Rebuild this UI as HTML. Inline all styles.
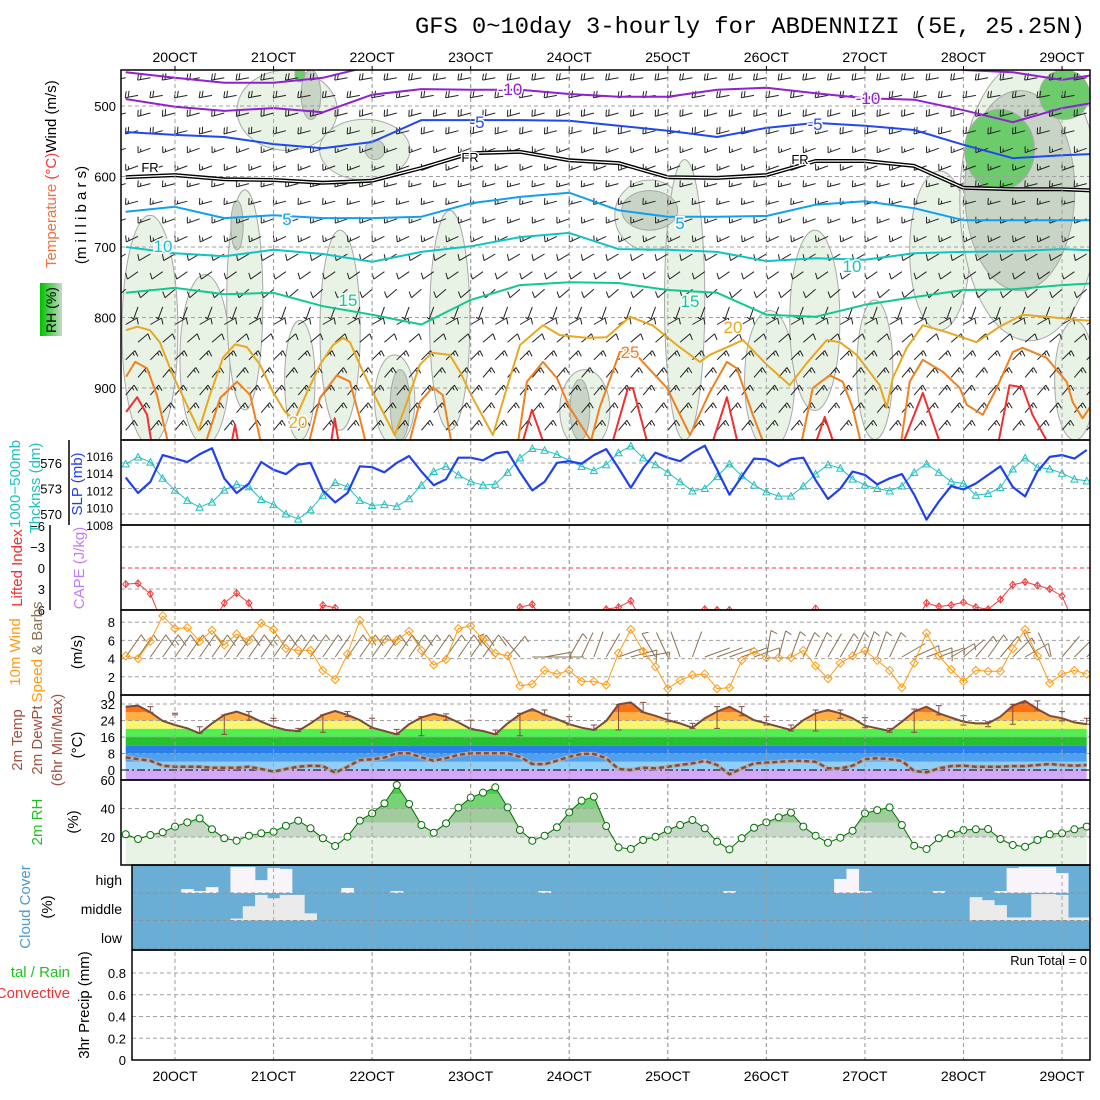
<!DOCTYPE html>
<html><head><meta charset="utf-8"><title>GFS meteogram ABDENNIZI</title>
<style>
html,body{margin:0;padding:0;background:#fff;}
svg{display:block;font-family:"Liberation Sans",sans-serif;}
.tick{font-size:13px;fill:#000;}
.ttl{font-size:14px;}
</style></head>
<body>
<svg id="chart" width="1100" height="1100" viewBox="0 0 1100 1100" xmlns="http://www.w3.org/2000/svg">
<defs>
<clipPath id="clipTop"><rect x="121" y="70" width="969" height="370"/></clipPath>
<clipPath id="clipSlp"><rect x="121" y="440" width="969" height="85"/></clipPath>
<clipPath id="clipLi"><rect x="121" y="525" width="969" height="85"/></clipPath>
<clipPath id="clipWind"><rect x="121" y="610" width="969" height="85"/></clipPath>
<clipPath id="clipTemp"><rect x="121" y="695" width="969" height="85"/></clipPath>
<clipPath id="clipRh"><rect x="121" y="780" width="969" height="85"/></clipPath>
<linearGradient id="rhgrad" x1="0" y1="0" x2="1" y2="0"><stop offset="0" stop-color="#00c000"/><stop offset="0.5" stop-color="#60d060"/><stop offset="1" stop-color="#c8d8c8"/></linearGradient>
</defs>
<text x="415" y="33" font-family="Liberation Mono, monospace" font-size="23" textLength="670" lengthAdjust="spacingAndGlyphs">GFS 0~10day 3-hourly for ABDENNIZI (5E, 25.25N)</text>
<g id="bg"></g>
<g id="marks"></g>
<g id="frames"></g>
<g id="labels"></g>
</svg>
<script>
// ---------------- DATA ----------------
const dayLabels = ["20OCT","21OCT","22OCT","23OCT","24OCT","25OCT","26OCT","27OCT","28OCT","29OCT"];
// 3-hourly series, index i -> hours since 20OCT00Z = -12 + 3*i
const slp = [1013.5,1011.7,1013.0,1016.1,1015.7,1015.3,1016.2,1016.9,1013.4,1011.7,1012.8,1015.3,1014.4,1013.9,1015.0,1015.2,1012.0,1010.6,1011.7,1014.8,1014.7,1014.1,1015.2,1016.0,1014.2,1012.6,1013.3,1015.8,1015.8,1015.5,1016.3,1016.5,1014.1,1012.0,1013.0,1015.2,1015.4,1015.1,1016.1,1016.8,1014.6,1012.3,1014.6,1016.4,1015.8,1015.4,1016.4,1017.2,1014.4,1011.5,1013.6,1015.7,1015.6,1014.8,1015.6,1015.8,1013.2,1011.0,1012.2,1014.2,1013.8,1012.7,1013.4,1013.9,1011.5,1008.6,1010.7,1012.5,1012.1,1012.8,1013.8,1014.8,1012.4,1011.3,1014.2,1015.9,1016.1,1015.7,1016.7];
const thick = [575.9,576.7,576.1,574.2,572.8,571.6,570.8,571.4,572.8,573.5,573.2,571.7,571.1,570.0,569.4,570.5,572.2,573.7,573.2,571.6,571.0,571.1,570.9,571.8,573.4,575.0,575.6,574.6,573.8,573.4,573.5,574.9,576.6,577.7,577.5,577.0,576.3,575.6,575.1,575.8,577.2,578.0,576.6,575.8,574.9,573.8,572.7,573.0,574.4,575.9,574.5,573.4,572.6,572.1,572.1,573.3,574.7,575.8,575.4,574.1,573.4,573.0,572.7,573.3,574.9,575.9,574.9,573.8,573.6,572.2,572.4,573.1,575.3,576.6,575.5,575.3,574.8,574.1,573.9];
const liftedIndex = [2.3,2.2,3.7,8,8,8,8,8,5.0,3.6,5.0,8,8,8,8,8,5.3,5.7,8,8,8,8,8,8,8,8,8,8,8,8,8,8,5.6,5.2,8,8,8,8,8,5.9,5.6,4.7,8,8,8,8,8,5.9,6.0,6.0,8,8,8,8,8,8,5.8,8,8,8,8,8,8,8,8,5.0,5.5,5.3,4.9,5.6,5.9,4.5,2.4,2.0,2.5,3.0,4.0,8,8];
const wind10 = [4.3,4.0,5.9,8.7,7.3,7.4,5.9,7.1,5.5,6.7,6.0,7.9,7.2,5.1,4.9,4.9,2.7,1.7,4.5,8.2,6.0,6.1,6.0,7.0,4.9,3.3,3.9,7.3,7.6,6.1,4.6,4.3,1.0,1.2,2.7,2.3,2.7,1.5,1.5,1.1,4.6,7.2,4.8,3.1,0.7,1.6,2.2,2.3,0.7,0.8,3.8,4.8,4.1,4.1,4.1,4.9,3.2,1.8,3.5,4.3,4.9,3.8,2.7,0.8,3.5,6.8,4.3,2.8,1.5,2.7,2.6,2.6,5.1,7.2,4.3,1.3,2.3,2.7,2.3];
const wind10Dir = [35,35,35,35,35,35,35,35,35,35,35,35,35,35,35,35,35,35,35,35,35,35,35,35,35,35,35,35,35,35,320,40,320,90,80,90,30,25,20,30,70,75,80,330,335,340,20,70,70,70,70,70,10,15,20,25,25,30,30,25,20,20,25,60,65,70,70,60,50,40,35,40,45,60,330,335,40,45,45];
const temp2m = [30.7,31.2,28.0,23.8,21.8,20.2,17.8,22.6,26.7,28.3,26.3,23.4,21.0,19.4,18.9,22.6,26.7,28.6,26.7,24.2,20.5,18.9,17.3,22.2,25.5,27.2,25.9,23.1,19.9,18.9,17.3,22.6,27.0,29.6,26.7,24.7,22.2,20.5,19.4,23.8,31.8,32.8,28.0,26.3,24.2,22.6,20.5,25.1,28.3,30.7,27.5,24.2,22.6,21.0,19.4,24.2,27.5,29.1,27.5,25.1,21.5,20.2,18.9,23.4,28.3,30.7,27.5,25.4,23.4,22.6,22.6,25.9,31.2,33.5,29.6,26.3,25.1,23.1,22.2];
const dew2m = [6.1,5.3,4.5,2.1,1.6,1.6,1.6,1.1,1.1,1.1,1.6,0.5,-0.8,0.5,1.6,2.1,1.9,-1.3,1.6,4.8,5.2,6.0,8.1,8.1,6.1,4.5,5.7,7.3,8.1,8.1,8.1,8.1,6.4,2.9,2.8,4.5,6.4,7.8,7.8,5.7,0.5,0,1.1,0.8,1.6,2.4,3.2,4.4,2.4,-2.1,0.8,3.2,3.6,4.0,4.4,4.4,4.0,0.8,0.8,2.1,5.3,5.7,5.3,4.4,-0.5,-1.1,0.8,1.9,2.1,1.6,1.6,1.6,1.9,1.9,2.4,2.9,2.4,2.1,2.4];
const barIdx = [2,4,6,8,10,12,14,16,18,20,22,24,26,28,30,32,34,36,38,40,42,44,46,48,50,52,54,56,58,60,62,64,66,68,70,72,74,76,78];
const barMax = [30.7,27.5,21.0,26.7,28.3,25.1,20.2,26.7,28.3,25.1,19.7,25.9,27.2,24.2,19.4,27.5,29.1,25.9,21.8,31.8,32.8,27.5,22.6,30.7,30.7,25.9,21.8,29.1,29.1,25.4,20.2,29.6,31.2,26.3,23.4,31.8,33.5,28.3,25.1];
const barMin = [28.0,26.7,17.8,17.3,24.2,23.8,18.6,18.3,25.9,20.2,17.3,16.6,24.2,20.2,17.3,16.6,26.7,21.8,19.4,19.4,28.0,23.4,20.2,20.2,26.3,21.8,18.9,18.9,25.1,20.5,18.3,18.3,26.7,21.8,21.0,22.2,29.1,23.8,22.2];
const rh2m = [21.9,18.6,21.4,23.3,27.3,30.3,33.1,25.4,19.1,17.4,20.9,22.6,23.7,27.9,31.5,26.1,19.1,13.7,20.2,31.5,36.6,43.6,56.5,43.2,28.4,23.0,29.6,40.6,47.6,51.1,54.9,40.8,24.9,17.4,20.9,26.8,37.3,45.5,48.3,27.7,12.7,11.6,17.9,20.2,24.9,28.4,31.9,26.1,16.7,11.3,19.1,26.5,30.3,33.8,37.1,27.3,20.9,16.0,19.5,24.4,36.6,38.9,40.8,28.4,13.9,11.6,19.1,22.1,24.9,25.4,25.6,18.6,14.4,13.2,17.9,21.9,22.6,25.4,27.3];
const cloudHigh = [0,0,0,0,0,14,7,21,0,93,93,46,89,86,0,0,0,0,18,0,0,0,7,0,0,0,0,0,0,0,0,0,0,0,7,0,0,0,0,0,0,0,0,0,0,0,0,0,0,7,0,0,0,0,0,0,0,0,50,86,7,0,0,0,0,0,7,0,0,0,0,7,89,93,93,93,71,0,0];
const cloudMid = [0,0,0,0,0,0,0,0,0,7,52,93,81,93,93,26,0,0,0,0,0,0,0,0,0,0,0,0,0,0,0,0,0,0,0,0,0,0,0,0,0,0,0,0,0,0,0,0,0,0,0,0,0,0,0,0,0,0,0,0,0,0,0,0,0,0,0,0,0,85,74,56,11,11,96,96,93,11,11];
const precip = [];
// upper-air isotherms: pressure (mb) at 12-hourly control times (h = -12 + 12k)
const isoM15 = [452,460,467,467,460,443,435,435,435,435,435,435,435,435,435,435,435,449,452,463,452];
const isoM10 = [490,501,507,503,509,484,476,477,477,483,487,487,477,474,482,489,491,506,523,503,491];
const isoM5  = [537,541,544,554,560,551,520,520,520,521,528,535,544,531,524,528,534,555,574,570,567];
const isoFR  = [601,598,604,605,609,606,588,567,565,577,581,601,602,598,578,578,585,616,618,618,621];
const isoP5  = [650,643,659,655,659,659,657,638,629,623,648,657,657,656,640,635,645,662,662,662,662];
const isoP10 = [700,709,713,704,710,721,707,699,686,680,703,704,707,720,716,718,709,707,706,703,706];
const isoP15 = [765,758,767,765,784,796,810,775,754,750,751,761,765,796,799,782,771,761,760,754,750];
// warm isotherms (irregular times in hours)
const h20 = [-11.9,-9.2,-6.1,-3.7,-0.5,2.9,5.8,8.5,11.7,14.6,17.5,20.7,23.9,26.8,29.2,32.1,35.3,38.5,40.9,42.6,45.0,48.2,53.5,56.5,59.6,62.6,66.9,69.4,72.5,77.4,80.8,84.0,89.6,93.7,100.3,105.1,110.8,116.3,122.2,127.8,130.2,138.3,144.1,149.7,153.8,158.7,161.9,166.0,171.6,173.3,174.8,178.2,182.1,188.0,195.2,200.8,206.4,212.2,221.0,224];
const p20 = [818,813,818,835,882,924,960,910,857,838,842,867,906,934,945,907,867,839,829,835,867,906,967,920,867,850,853,877,914,967,900,839,811,825,829,828,799,811,839,863,853,832,867,896,865,832,835,853,896,928,886,843,811,821,835,813,796,799,804,805];
const h25 = [-11.9,-9.7,-6.8,-4.4,-1.2,6.8,11.0,15.1,18.3,21.4,32.1,35.3,39.4,42.6,45.0,47.0,56.5,59.6,62.8,65.2,67.7,83.2,85.7,89.6,93.0,96.1,101.3,103.4,108.3,110.8,113.9,119.8,125.4,130.2,134.4,136.8,140.7,144.1,152.1,155.3,159.4,162.6,165.0,167.5,176.5,178.9,182.1,187.0,191.1,192.8,196.7,200.1,204.0,206.4,212.2,217.1,218.6,221.0,222.7];
const p25 = [884,863,872,910,990,990,914,891,910,990,990,914,882,891,943,990,990,920,899,910,990,990,891,863,886,928,975,928,849,842,863,900,967,906,863,872,938,990,990,900,882,891,928,990,990,891,860,877,900,924,938,900,849,843,857,891,920,943,928];
const h30 = [-11.9,-9.2,-6.8,-5.4,13.4,14.6,15.8,37.7,38.9,40.2,84.0,86.9,90.5,105.9,110.3,111.5,115.6,130.2,134.4,137.5,155.3,158.2,161.1,176.5,182.1,187.0,200.1,203.2,206.4,208.8,213.7];
const p30 = [934,913,938,990,990,952,990,990,943,990,990,931,990,990,900,900,990,990,913,990,990,941,990,990,907,990,990,896,899,938,990];
// RH (%) moist regions aloft: centre time (h), centre pressure, half-width (h), half-depth (mb), level
const rhH = [-6.1,7.3,17.0,30.4,27.3,46.2,40.2,53.5,66.9,99.8,115.6,124.1,144.8,155.8,170.4,186.2,208.1,219.1, 15.1,33.1,48.7,54.8,98.6,115.6,205.7, 30.4,200.8,216.6];
const rhP = [818,860,775,889,506,562,818,917,804,931,655,775,889,804,874,705,634,889, 669,484,562,924,931,648,620, 455,562,484];
const rhW = [6.8,6.1,4.4,3.7,12.2,11.0,4.9,4.9,4.9,6.1,8.5,4.9,6.1,6.1,4.4,7.3,17.0,4.9, 1.5,2.4,2.4,2.4,2.4,6.8,13.4, 1.2,8.5,6.1];
const rhD = [163,121,156,85,57,43,142,64,156,57,50,199,99,128,99,113,199,85, 35,35,14,50,43,28,142, 11,57,35];
const rhL = [1,1,1,1,1,1,1,1,1,1,1,1,1,1,1,1,1,1, 2,2,2,2,2,2,2, 3,3,3];
// upper-air wind barbs per level
const barbLevels = [460,485,510,535,560,585,610,635,660,685,710,735,760,785,810,835,860,885,910,935,960];
const barbDir = [260,260,255,255,250,250,255,255,250,245,240,235,230,200,60,50,45,40,40,40,40];
const barbSpd = [12,12,11,11,10,10,9,9,8,8,7,7,6,5,6,7,8,9,9,9,8];

// ---------------- AXES ----------------
const NS = 'http://www.w3.org/2000/svg';
const svg = document.getElementById('chart');
const gBg = document.getElementById('bg'), gM = document.getElementById('marks'), gF = document.getElementById('frames'), gL = document.getElementById('labels');
function mk(tag, parent){ const e = document.createElementNS(NS, tag); parent.appendChild(e); return e; }
function set(e, o){ for (const k in o) e.setAttribute(k, o[k]); return e; }
const xH = h => 175 + h * 98.56 / 24;
const xI = i => xH(-12 + 3 * i);
const yP = p => 106 + (p - 500) * 0.705;
const ySlp = v => 456 + (1016 - v) * 8.6;
const yTh = v => 463 + (576 - v) * 8.5;
const yLi = v => 568 + v * 7;
const yW = v => 695 - v * 9.1;
const yT = v => 770 - v * 2.0625;
const yRh = v => 865.5 - v * 1.425;
const yPr = v => 1060 - v * 108.75;
const X0 = 121, X1 = 1090;

function grpClip(id, name){ const g = mk('g', gM); g.setAttribute('clip-path', 'url(#' + id + ')');
  
  
  return g; }
function poly(parent, pts, stroke, w, name, extra){ const e = mk('polyline', parent);
  set(e, {points: pts.map(p => p[0].toFixed(1) + ',' + p[1].toFixed(1)).join(' '), fill: 'none', stroke: stroke, 'stroke-width': w, 'stroke-linejoin': 'round'});
  if (extra) set(e, extra);
  
  
  return e; }
function txt(parent, x, y, s, o, name){ const e = mk('text', parent); e.textContent = s; set(e, {x: x, y: y}); if (o) set(e, o);
  
  
  return e; }
function hline(parent, y, x0, x1, stroke, dash, name){ const e = mk('line', parent); set(e, {x1: x0, x2: x1, y1: y, y2: y, stroke: stroke, 'stroke-width': 1});
  if (dash) e.setAttribute('stroke-dasharray', dash);
  
  
  return e; }
function barb(parent, x, y, dir, spd, L, color, name){
  const a = dir * Math.PI / 180, dx = Math.sin(a), dy = -Math.cos(a);
  const ex = x + L * dx, ey = y + L * dy;
  let d = 'M' + x.toFixed(1) + ',' + y.toFixed(1) + 'L' + ex.toFixed(1) + ',' + ey.toFixed(1);
  const kt = spd * 1.944; const full = Math.floor(kt / 10); const half = (kt % 10) >= 5 ? 1 : 0;
  const b = a + 1.9; const bx = Math.sin(b), by = -Math.cos(b); const bl = L * 0.5;
  for (let k = 0; k < full + half; k++){
    const sx = ex - k * (L * 0.22) * dx, sy = ey - k * (L * 0.22) * dy;
    const len = k < full ? bl : bl * 0.5;
    d += 'M' + sx.toFixed(1) + ',' + sy.toFixed(1) + 'l' + (len * bx).toFixed(1) + ',' + (len * by).toFixed(1);
  }
  const e = mk('path', parent); set(e, {d: d, stroke: color, 'stroke-width': 1, fill: 'none'});
  
  
}

// ---------------- TOP PANEL ----------------
const gTop = grpClip('clipTop', 'upper-air-panel');
const rhFill = ['#e8f3e6', '#c8d4c6', '#6ccc6c'];
[1,2,3].forEach(lv => {
  for (let i = 0; i < rhH.length; i++){ if (rhL[i] !== lv) continue;
    const cx = xH(rhH[i]), cy = yP(rhP[i]);
    const rx = xH(rhH[i] + rhW[i]) - cx, ry = yP(rhP[i] + rhD[i]) - cy;
    const e = mk('ellipse', gTop); set(e, {cx: cx, cy: cy, rx: rx, ry: ry, fill: rhFill[lv - 1], stroke: '#a8a8a8', 'stroke-width': 1});
    
    
  }
});
// grid
for (let p = 500; p <= 900; p += 100) hline(gTop, yP(p), X0, X1, '#a0a0a0', '4,3', 'pressure-gridline');
// barbs aloft
for (let r = 0; r < barbLevels.length; r++){
  for (let i = (r % 2); i < 79; i += 2){
    barb(gTop, xI(i), yP(barbLevels[r]), barbDir[r], barbSpd[r], 13, '#222', 'upper-wind-barb');
  }
}
const ctrl = isoM15.map((v, k) => -12 + 12 * k);
function isoLine(arr, color, w, name){ return poly(gTop, arr.map((v, k) => [xH(ctrl[k]), yP(v)]), color, w, name); }
isoLine(isoM15, '#9020d0', 2, 'isotherm-minus15');
isoLine(isoM10, '#9020d0', 2, 'isotherm-minus10');
isoLine(isoM5, '#2048f0', 2, 'isotherm-minus5');
isoLine(isoFR, '#000', 4, 'freezing-level');
isoLine(isoFR, '#fff', 1.2, 'freezing-level-inner');
isoLine(isoP5, '#10a0f0', 2, 'isotherm-5');
isoLine(isoP10, '#10c4c4', 2, 'isotherm-10');
isoLine(isoP15, '#10c890', 2, 'isotherm-15');
poly(gTop, h20.map((h, k) => [xH(h), yP(p20[k])]), '#e8a820', 2, 'isotherm-20');
poly(gTop, h25.map((h, k) => [xH(h), yP(p25[k])]), '#f08020', 2, 'isotherm-25');
poly(gTop, h30.map((h, k) => [xH(h), yP(p30[k])]), '#f03030', 2, 'isotherm-30');
const isoLab = [[510,95,'-10','#9020d0'],[868,104,'-10','#9020d0'],[477,128,'-5','#2048f0'],[815,130,'-5','#2048f0'],[150,172,'FR','#000'],[470,162,'FR','#000'],[800,164,'FR','#000'],[287,225,'5','#10a0f0'],[680,229,'5','#10a0f0'],[163,252,'10','#10c4c4'],[852,272,'10','#10c4c4'],[348,306,'15','#10c890'],[690,307,'15','#10c890'],[298,428,'20','#e8a820'],[733,333,'20','#e8a820'],[630,358,'25','#f08020']];
isoLab.forEach(l => { const e = txt(gTop, l[0], l[1], l[2], {fill: l[3], 'font-size': l[2] === 'FR' ? 13 : 17, 'text-anchor': 'middle', stroke: '#fff', 'stroke-width': 3, 'paint-order': 'stroke'}, 'isotherm-label'); });

// ---------------- SLP / THICKNESS ----------------
const gS = grpClip('clipSlp', 'slp-panel');
[576,573,570].forEach(v => hline(gS, yTh(v), X0, X1, '#a0a0a0', '4,3', 'thickness-gridline'));
poly(gS, thick.map((v, i) => [xI(i), yTh(v)]), '#20c0c0', 1, 'thickness-line');
thick.forEach((v, i) => { const x = xI(i), y = yTh(v); const e = mk('path', gS);
  set(e, {d: `M${x.toFixed(1)},${(y-3.5).toFixed(1)}l3.5,6.5h-7z`, fill: 'none', stroke: '#20c0c0', 'stroke-width': 1});
  
   });
poly(gS, slp.map((v, i) => [xI(i), ySlp(v)]), '#2040f0', 2.2, 'slp-line');

// ---------------- LIFTED INDEX ----------------
const gLi = grpClip('clipLi', 'lifted-index-panel');
[-3,3].forEach(v => hline(gLi, yLi(v), X0, X1, '#a0a0a0', '4,3', 'li-gridline'));
hline(gLi, yLi(0), X0, X1, '#ff3030', '4,3', 'li-zero-line');
poly(gLi, liftedIndex.map((v, i) => [xI(i), yLi(v)]), '#f04040', 1, 'lifted-index-line');
liftedIndex.forEach((v, i) => { const x = xI(i), y = yLi(v); const e = mk('path', gLi);
  set(e, {d: `M${x},${y-3.5}l3,3.5l-3,3.5l-3,-3.5zM${x},${y-3.5}v7`, fill: 'none', stroke: '#f04040', 'stroke-width': 1});
  
   });

// ---------------- 10M WIND ----------------
const gW = grpClip('clipWind', 'wind-panel');
[2,4,6,8].forEach(v => hline(gW, yW(v), X0, X1, '#a0a0a0', '4,3', 'wind-gridline'));
wind10.forEach((v, i) => barb(gW, xI(i), 657, wind10Dir[i], v, 27, '#8a7050', 'wind10-barb'));
poly(gW, wind10.map((v, i) => [xI(i), yW(v)]), '#ff9a10', 1, 'wind-speed-line');
wind10.forEach((v, i) => { const x = xI(i), y = yW(v); const e = mk('path', gW);
  set(e, {d: `M${x},${y-4}l4,4l-4,4l-4,-4z`, fill: 'none', stroke: '#ff9a10', 'stroke-width': 1});
  
   });

// ---------------- TEMPERATURE ----------------
const gT = grpClip('clipTemp', 'temperature-panel');
const tcp = document.createElementNS(NS, 'clipPath'); tcp.setAttribute('id', 'tempArea');
svg.querySelector('defs').appendChild(tcp);
const tArea = mk('polygon', tcp);
tArea.setAttribute('points', temp2m.map((v, i) => xI(i).toFixed(1) + ',' + yT(v).toFixed(1)).join(' ') + ` ${xI(78).toFixed(1)},781 ${xI(0).toFixed(1)},781`);
const gTB = mk('g', gT); gTB.setAttribute('clip-path', 'url(#tempArea)');


const tBands = [[-6,0,'#d2a8f8'],[0,4,'#90d0f8'],[4,8,'#50a0f0'],[8,12,'#2a80e8'],[12,16,'#28c030'],[16,20,'#50f050'],[20,24,'#f6f670'],[24,28,'#ffb040'],[28,32,'#ff7010'],[32,40,'#f04000']];
tBands.forEach(b => { const e = mk('rect', gTB); set(e, {x: X0, y: yT(b[1]), width: X1 - X0, height: yT(b[0]) - yT(b[1]), fill: b[2]});
  
   });
[8,16,24,32].forEach(v => hline(gT, yT(v), X0, X1, '#a0a0a0', '4,3', 'temp-gridline'));
hline(gT, yT(0), X0, X1, '#000', '8,3,2,3', 'zero-degree-line');
poly(gT, dew2m.map((v, i) => [xI(i), yT(v)]), '#b0b0b0', 4, 'dewpoint-halo');
poly(gT, dew2m.map((v, i) => [xI(i), yT(v)]), '#8a4a3a', 2.5, 'dewpoint-line', {'stroke-dasharray': '5,3'});
barIdx.forEach((ix, k) => { const x = xI(ix), y1 = yT(barMax[k]), y2 = yT(barMin[k]); const e = mk('path', gT);
  set(e, {d: `M${x},${y1}V${y2}M${x-3},${y1}h6M${x-3},${y2}h6`, stroke: '#8a4a3a', 'stroke-width': 1, fill: 'none'});
  
   });
poly(gT, temp2m.map((v, i) => [xI(i), yT(v)]), '#7a4a3a', 2, 'temperature-line');

// ---------------- RH ----------------
const gR = grpClip('clipRh', 'rh-panel');
const rcp = document.createElementNS(NS, 'clipPath'); rcp.setAttribute('id', 'rhArea');
svg.querySelector('defs').appendChild(rcp);
const rArea = mk('polygon', rcp);
rArea.setAttribute('points', rh2m.map((v, i) => xI(i).toFixed(1) + ',' + yRh(v).toFixed(1)).join(' ') + ` ${xI(78).toFixed(1)},866 ${xI(0).toFixed(1)},866`);
const gRB = mk('g', gR); gRB.setAttribute('clip-path', 'url(#rhArea)');


const rBands = [[0,20,'#e8f3e6'],[20,30,'#c8d8c8'],[30,40,'#a0cc9c'],[40,50,'#76d476'],[50,100,'#4ccc4c']];
rBands.forEach(b => { const e = mk('rect', gRB); set(e, {x: X0, y: yRh(b[1]), width: X1 - X0, height: yRh(b[0]) - yRh(b[1]), fill: b[2]});
  
   });
[20,40].forEach(v => hline(gR, yRh(v), X0, X1, '#a0a0a0', '4,3', 'rh-gridline'));
poly(gR, rh2m.map((v, i) => [xI(i), yRh(v)]), '#007000', 1, 'rh-line');
rh2m.forEach((v, i) => { const e = mk('circle', gR); set(e, {cx: xI(i), cy: yRh(v), r: 3.5, fill: '#fff', stroke: '#007000', 'stroke-width': 1});
  
   });

// ---------------- CLOUD ----------------
const gC = mk('g', gM);


const cb = mk('rect', gC); set(cb, {x: 132, y: 865, width: 958, height: 85, fill: '#6aaed6'});


const cw = xI(1) - xI(0);
cloudHigh.forEach((v, i) => { if (!v) return; const h = v / 100 * 28; const e = mk('rect', gC);
  set(e, {x: xI(i) - cw / 2, y: 893 - h, width: cw + 0.3, height: h, fill: '#f8f4fa'});
  
   });
cloudMid.forEach((v, i) => { if (!v) return; const h = v / 100 * 27.5; const e = mk('rect', gC);
  set(e, {x: xI(i) - cw / 2, y: 920.5 - h, width: cw + 0.3, height: h, fill: '#ebebeb'});
  
   });
[893,920.5,948].forEach(y => hline(gC, y, 132, X1, '#909090', '4,3', 'cloud-gridline'));

// ---------------- PRECIP ----------------
const gPr = mk('g', gM);


[0.2,0.4,0.6,0.8].forEach(v => hline(gPr, yPr(v), 132, X1, '#a0a0a0', '4,3', 'precip-gridline'));
txt(gPr, 1087, 965, 'Run Total = 0', {'text-anchor': 'end', 'font-size': 13}, 'run-total-label');

// ---------------- DAY GRID + LABELS ----------------
dayLabels.forEach((d, k) => { const x = xH(24 * k);
  const e = mk('line', gBg); set(e, {x1: x, x2: x, y1: 70, y2: 1060, stroke: '#a0a0a0', 'stroke-dasharray': '4,3'});
  
  
  const e2 = mk('line', gF); set(e2, {x1: x, x2: x, y1: 66, y2: 70, stroke: '#000'});
  
  
  txt(gL, x, 62, d, {'text-anchor': 'middle', 'font-size': 14}, 'top-date-label');
  txt(gL, x, 1081, d, {'text-anchor': 'middle', 'font-size': 14}, 'bottom-date-label');
});
// move day gridlines above panel fills
const gridTop = mk('g', gM);


dayLabels.forEach((d, k) => { const x = xH(24 * k); const e = mk('line', gridTop);
  set(e, {x1: x, x2: x, y1: 70, y2: 1060, stroke: '#a0a0a0', 'stroke-dasharray': '4,3', 'stroke-opacity': 0.9});
  
   });

// frames
function frame(x, y, w, h, name){ const e = mk('rect', gF); set(e, {x: x, y: y, width: w, height: h, fill: 'none', stroke: '#000', 'stroke-width': 1.5});
  
   }
frame(121, 70, 969, 370, 'upper-air-frame');
frame(121, 440, 969, 85, 'slp-frame');
frame(121, 525, 969, 85, 'li-frame');
frame(121, 610, 969, 85, 'wind-frame');
frame(121, 695, 969, 85, 'temp-frame');
frame(121, 780, 969, 85, 'rh-frame');
frame(132, 865, 958, 85, 'cloud-frame');
frame(132, 950, 958, 110, 'precip-frame');
const ax1 = mk('line', gF); set(ax1, {x1: 69, x2: 69, y1: 440, y2: 525, stroke: '#000', 'stroke-width': 1.5});


const ax2 = mk('line', gF); set(ax2, {x1: 50, x2: 50, y1: 525, y2: 610, stroke: '#000', 'stroke-width': 1.5});



// tick labels
[500,600,700,800,900].forEach(p => txt(gL, 116, yP(p) + 5, String(p), {'text-anchor': 'end', 'font-size': 13}, 'pressure-tick-label'));
[1016,1014,1012,1010,1008].forEach(v => txt(gL, 113, Math.min(ySlp(v) + 5, 530), String(v), {'text-anchor': 'end', 'font-size': 12}, 'slp-tick-label'));
[576,573,570].forEach(v => txt(gL, 62, yTh(v) + 5, String(v), {'text-anchor': 'end', 'font-size': 13}, 'thickness-tick-label'));
[-6,-3,0,3,6].forEach(v => txt(gL, 45, yLi(v) + 5, v < 0 ? '\u2212' + (-v) : String(v), {'text-anchor': 'end', 'font-size': 13}, 'li-tick-label'));
[8,6,4,2,0].forEach(v => txt(gL, 115, yW(v) + 5, String(v), {'text-anchor': 'end', 'font-size': 13}, 'wind-tick-label'));
[32,24,16,8,0].forEach(v => txt(gL, 115, yT(v) + 5, String(v), {'text-anchor': 'end', 'font-size': 13}, 'temp-tick-label'));
[60,40,20].forEach(v => txt(gL, 115, yRh(v) + 5, String(v), {'text-anchor': 'end', 'font-size': 13}, 'rh-tick-label'));
[['high',885],['middle',914],['low',943]].forEach(c => txt(gL, 122, c[1], c[0], {'text-anchor': 'end', 'font-size': 14}, 'cloud-level-label'));
[0.8,0.6,0.4,0.2,0].forEach(v => txt(gL, 126, yPr(v) + 5, String(v), {'text-anchor': 'end', 'font-size': 13}, 'precip-tick-label'));

// rotated titles
function vt(x, y, parts, anchor, size, name){ const e = mk('text', gL); set(e, {x: 0, y: 0, transform: `translate(${x},${y}) rotate(-90)`, 'text-anchor': anchor, 'font-size': size});
  parts.forEach(p => { const t = mk('tspan', e); t.textContent = p[0]; t.setAttribute('fill', p[1]); });
  
   }
vt(56, 268, [['Temperature','#f07040'],[' (\u00b0C)','#ff3030'],['Wind (m/s)','#000']], 'start', 15, 'upper-axis-title');
vt(86, 215, [['(m i l l i b a r s)','#000']], 'middle', 15, 'pressure-axis-title');
const rhb = mk('rect', gL); set(rhb, {x: 40, y: 283, width: 22, height: 53, fill: 'url(#rhgrad)'});


vt(56, 310, [['RH (%)','#000']], 'middle', 14, 'rh-legend-label');
vt(20, 484, [['1000\u2212500mb','#20c0c0']], 'middle', 15, 'thickness-title');
vt(40, 488, [['Thcknss (dm)','#20c0c0']], 'middle', 15, 'thickness-title-2');
vt(82, 484, [['SLP (mb)','#2040f0']], 'middle', 15, 'slp-title');
vt(22, 568, [['Lifted Index','#f03030']], 'middle', 15, 'li-title');
vt(84, 568, [['CAPE (J/kg)','#c080f0']], 'middle', 15, 'cape-title');
vt(20, 652, [['10m Wind','#ff9a10']], 'middle', 15, '10m-wind-title');
vt(42, 652, [['Speed ','#ff9a10'],['& Barbs','#8a7050']], 'middle', 15, 'speed-barbs-title');
vt(82, 652, [['(m/s)','#000']], 'middle', 15, 'wind-units-title');
vt(22, 740, [['2m Temp','#a05040']], 'middle', 15, 'temp-title');
vt(42, 740, [['2m DewPt','#a05040']], 'middle', 15, 'dewpt-title');
vt(62, 740, [['(6hr Min/Max)','#a05040']], 'middle', 15, 'minmax-title');
vt(82, 745, [['(\u00b0C)','#000']], 'middle', 15, 'temp-units-title');
vt(42, 822, [['2m RH','#20c020']], 'middle', 15, 'rh2m-title');
vt(78, 822, [['(%)','#000']], 'middle', 15, 'rh2m-units');
vt(30, 907, [['Cloud Cover','#4a9ad0']], 'middle', 15, 'cloud-title');
vt(52, 907, [['(%)','#000']], 'middle', 15, 'cloud-units');
vt(89, 1005, [['3hr Precip (mm)','#000']], 'middle', 15, 'precip-title');
txt(gL, 70, 977, 'tal / Rain', {'text-anchor': 'end', 'font-size': 15, fill: '#20c020'}, 'precip-legend-rain');
txt(gL, 70, 998, 'Convective', {'text-anchor': 'end', 'font-size': 15, fill: '#f03030'}, 'precip-legend-convective');
</script>
</body></html>
